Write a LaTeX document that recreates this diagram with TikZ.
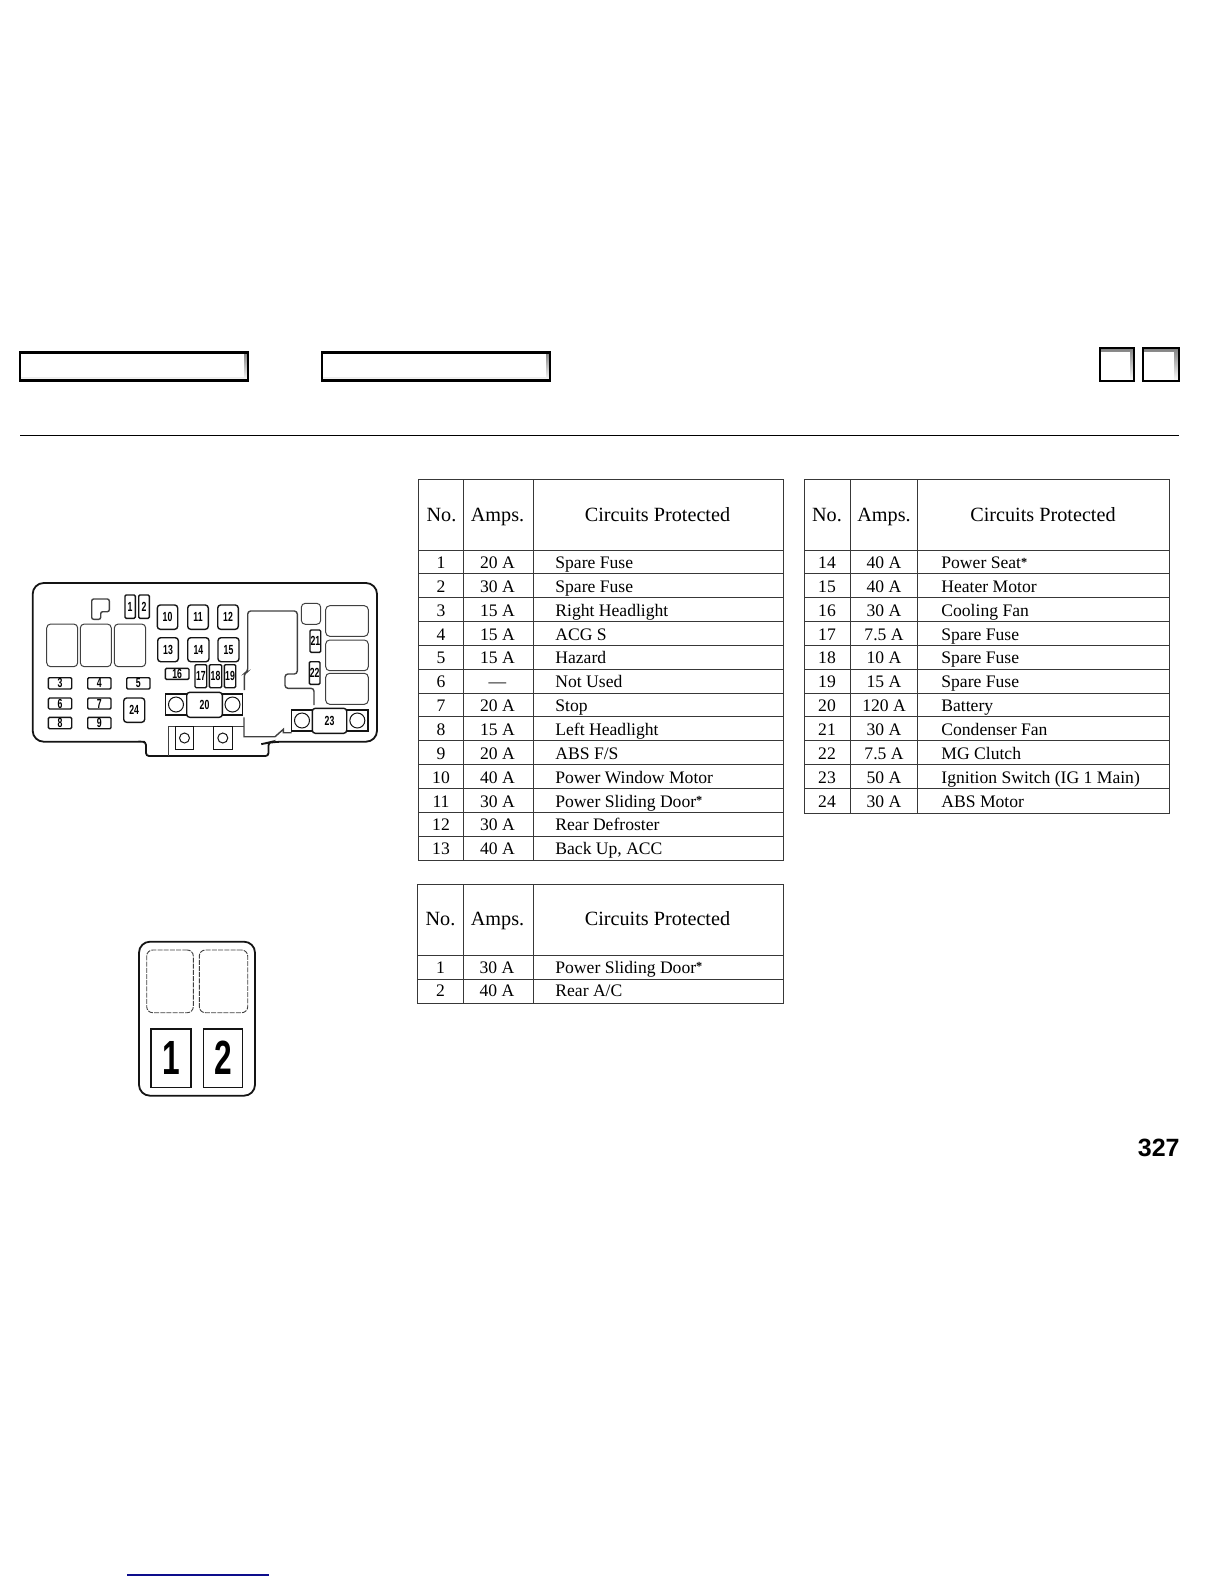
\documentclass[tikz,border=0pt]{standalone}
\usepackage{fontspec}
\setmainfont{Liberation Serif}
\newfontfamily\fuselabel[FakeStretch=0.66]{Liberation Sans Bold}
\newfontfamily\bigfuselabel[FakeStretch=0.66]{Liberation Sans Bold}
\newfontfamily\sansbold{Liberation Sans Bold}
\definecolor{ink}{gray}{0.08}
\definecolor{part}{gray}{0.25}
\definecolor{shade}{gray}{0.75}
\definecolor{linkblue}{rgb}{0.05,0.05,0.55}
\newcommand{\stmark}{\raisebox{0.28ex}{\scalebox{0.7}{\bfseries *}}}
\newcommand{\partbox}[7][fuse]{%
  \pgfmathsetmacro{\pcx}{(#3+#5)/2}\pgfmathsetmacro{\pcy}{(#4+#6)/2}%
  \pgfmathsetmacro{\pwd}{(#5-#3)*0.5}\pgfmathsetmacro{\pht}{(#6-#4)*0.5}%
  \node[#1,minimum width=\pwd bp,minimum height=\pht bp] (#2) at (\pcx,\pcy) {#7};}
\tikzset{
  x=0.5bp,y=-0.5bp,
  fuse/.style={draw=ink,line width=0.7bp,rounded corners=1.5bp,inner sep=0pt,outer sep=0pt,font=\fuselabel\fontsize{6.6bp}{6.6bp}\selectfont},
  slim/.style={fuse,rounded corners=0.6bp},
  sharp/.style={draw=ink,line width=0.65bp,inner sep=0pt,outer sep=0pt},
  relay/.style={draw=part,line width=0.5bp,rounded corners=2bp,inner sep=0pt,outer sep=0pt},
  dashrelay/.style={draw=part,line width=0.45bp,dash pattern=on 2.5bp off 0.6bp,rounded corners=3bp,inner sep=0pt,outer sep=0pt},
  hole/.style={draw=ink,line width=0.5bp,circle,inner sep=0pt,outer sep=0pt},
  shell/.style={draw=ink,line width=0.9bp},
  partline/.style={draw=part,line width=0.55bp},
  rule/.style={draw=ink!85,line width=0.5bp},
  headtext/.style={font=\fontsize{10.1bp}{10bp}\selectfont,anchor=base},
  cell/.style={font=\fontsize{8.8bp}{9bp}\selectfont,anchor=base},
  celltext/.style={font=\fontsize{8.8bp}{9bp}\selectfont,anchor=base west},
  bigdigit/.style={inner sep=0pt,font=\fontsize{24bp}{24bp}\bigfuselabel\selectfont},
  tab/.style={draw=black,line width=1.35bp},
}
\begin{document}
\begin{tikzpicture}
\useasboundingbox (0,0) rectangle (1224,1584);
% top bar
\fill[shade] (20,352) rectangle (248,381);
\fill[white] (21,353) rectangle (243.5,376.5);
\draw[tab] (20,352.5) rectangle (248,380.5);
\fill[shade] (322,352) rectangle (550,381);
\fill[white] (323,353) rectangle (545.5,376.5);
\draw[tab] (322,352.5) rectangle (550,380.5);
\fill[shade] (1100,348) rectangle (1134,381);
\fill[white] (1101,352) rectangle (1129.5,381);
\draw[tab] (1100,348) rectangle (1134,381);
\fill[shade] (1143,348) rectangle (1179,381);
\fill[white] (1144,352) rectangle (1174,381);
\draw[tab] (1143,348) rectangle (1179,381);
\draw[draw=black,line width=0.6bp] (20,435.3) -- (1179,435.3);
% main fuse box shell
\draw[shell,rounded corners=5.5bp] (32.7,620) -- (32.7,583) -- (377,583) -- (377,741.7) -- (272,741.7)
  [rounded corners=1.5bp] -- (268.5,742.5) -- (268.5,756) -- (146,756) -- (146,742) -- (142,741.7)
  [rounded corners=5.5bp] -- (32.7,741.7) -- (32.7,620);
% L-shaped part
\draw[partline,line width=0.7bp,rounded corners=1bp] (91.7,599) -- (109.3,599) -- (109.3,611.7) -- (100.7,611.7) -- (100.7,619.3) -- (91.7,619.3) -- cycle;
% relays left
\partbox[relay]{rA}{46.7}{624}{77.7}{666.7}{}
\partbox[relay]{rB}{80.3}{624}{111.3}{666.7}{}
\partbox[relay]{rC}{114.3}{624}{145.7}{666.7}{}
% relays right
\partbox[relay]{rD}{325.7}{605.7}{368.3}{636.3}{}
\partbox[relay]{rE}{325.7}{640}{368.3}{670.7}{}
\partbox[relay]{rF}{325.7}{673.3}{368.3}{704.3}{}
\partbox[relay]{rG}{301.3}{603.3}{320.7}{624.3}{}
% fuses
\partbox[slim]{f1}{125}{595}{135.3}{618.3}{1}
\partbox[slim]{f2}{138.7}{595}{149.3}{618.3}{2}
\partbox[slim]{f3}{48.3}{677.7}{71.7}{689}{3}
\partbox[slim]{f4}{87.7}{677.7}{111}{689}{4}
\partbox[slim]{f5}{126.7}{677.7}{150}{689}{5}
\partbox[slim]{f6}{48.3}{698}{71.7}{709}{6}
\partbox[slim]{f7}{87.7}{698}{111}{709}{7}
\partbox[slim]{f8}{48.3}{717.3}{71.7}{728.7}{8}
\partbox[slim]{f9}{87.7}{717.3}{111}{728.7}{9}
\partbox{f10}{157.3}{605}{177.7}{629.3}{10}
\partbox{f11}{187.7}{605}{208.3}{629.3}{11}
\partbox{f12}{217.7}{605}{238.3}{629.3}{12}
\partbox{f13}{157.7}{637.7}{178.3}{661.7}{13}
\partbox{f14}{187.7}{637.7}{209}{661.7}{14}
\partbox{f15}{218}{637.7}{239}{661.7}{15}
\partbox[slim]{f16}{165.3}{668.3}{189}{679.3}{16}
\partbox[slim]{f17}{195}{664.7}{206.7}{687.7}{17}
\partbox[slim]{f18}{209.3}{664.7}{221.7}{687.7}{18}
\partbox[slim]{f19}{224.3}{664.7}{235.7}{687.7}{19}
\partbox[slim]{f21}{310}{630}{320.7}{652.3}{21}
\partbox[slim]{f22}{309.3}{661.7}{320}{684.3}{22}
\partbox{f24}{123.7}{698}{144.7}{722.3}{24}
% fuse 20 group
\partbox[sharp]{s20a}{165.3}{694}{186.7}{715}{}
\partbox[sharp]{s20b}{222.3}{694}{242.7}{715}{}
\partbox{f20}{186.7}{692.3}{222.3}{717.3}{20}
\node[hole,minimum size=7.5bp] (h20a) at (s20a) {};
\node[hole,minimum size=7.5bp] (h20b) at (s20b) {};
% fuse 23 group
\partbox[sharp]{s23a}{291.7}{710}{312.3}{731}{}
\partbox[sharp]{s23b}{346.7}{710}{368}{731}{}
\partbox{f23}{312.3}{708.3}{346.7}{733.3}{23}
\node[hole,minimum size=7.5bp] (h23a) at (s23a) {};
\node[hole,minimum size=7.5bp] (h23b) at (s23b) {};
% bottom section
\draw[partline] (168.3,756) -- (168.3,726.7) -- (243.5,726.7);
\partbox[sharp,line width=0.5bp]{sBa}{175.7}{726.7}{193.3}{749.3}{}
\partbox[sharp,line width=0.5bp]{sBb}{213.3}{726.7}{232.3}{749.3}{}
\node[hole,minimum size=5bp] (hBa) at (sBa) {};
\node[hole,minimum size=5bp] (hBb) at (sBb) {};
% free-form outline
\draw[partline,line width=0.7bp] (244,717.3) -- (244,736.7) -- (275,736.7) -- (283.3,729.3) -- (283.3,732.7) -- (291.7,732.7);
\draw[partline,line width=0.7bp,rounded corners=1.5bp] (244.3,690) -- (244.3,673.3) -- (247.7,671.7) -- (247.7,611) -- (297.3,611) -- (297.3,674) -- (285,674) -- (285,688.3) -- (314,688.3) -- (314,705);
% second fuse box
\draw[shell,rounded corners=5.5bp] (139,941.7) rectangle (255,1095.7);
\partbox[dashrelay]{rH}{146.7}{950}{193.3}{1012.7}{}
\partbox[dashrelay]{rI}{199.3}{950}{247.7}{1012.7}{}
\partbox[sharp,bigdigit]{g1}{151}{1029}{191}{1087.3}{1}
\partbox[sharp,bigdigit]{g2}{203.3}{1029}{242.7}{1087.3}{2}
% table 1
\draw[rule] (418,479) rectangle (783,860);
\foreach \yy in {550,573.85,597.7,621.55,645.4,669.25,693.1,716.95,740.8,764.65,788.5,812.35,836.2} \draw[rule] (418,\yy) -- (783,\yy);
\draw[rule] (463,479) -- (463,860);
\draw[rule] (533,479) -- (533,860);
\node[headtext] (t1no) at (441.5,521) {No.};
\node[headtext] (t1amp) at (497.5,521) {Amps.};
\node[headtext] (t1cp) at (657.5,521) {Circuits Protected};
\foreach \no/\amp/\what [count=\i from 0] in {1/20 A/Spare Fuse,2/30 A/Spare Fuse,3/15 A/Right Headlight,4/15 A/ACG S,5/15 A/Hazard,6/---/Not Used,7/20 A/Stop,8/15 A/Left Headlight,9/20 A/{ABS F/S},10/40 A/Power Window Motor,11/30 A/{Power Sliding Door\stmark},12/30 A/Rear Defroster,13/40 A/{Back Up, ACC}}{
  \pgfmathsetmacro{\by}{568.5+\i*23.85}
  \node[cell] (t1n\i) at (441,\by) {\no};
  \node[cell] (t1a\i) at (497.5,\by) {\amp};
  \node[celltext,inner sep=0pt] (t1c\i) at (555,\by) {\what};
}
% table 2
\draw[rule] (804,479) rectangle (1169,813);
\foreach \yy in {550,573.85,597.7,621.55,645.4,669.25,693.1,716.95,740.8,764.65,788.5} \draw[rule] (804,\yy) -- (1169,\yy);
\draw[rule] (850,479) -- (850,813);
\draw[rule] (917,479) -- (917,813);
\node[headtext] (t2no) at (827,521) {No.};
\node[headtext] (t2amp) at (884,521) {Amps.};
\node[headtext] (t2cp) at (1043,521) {Circuits Protected};
\foreach \no/\amp/\what [count=\i from 0] in {14/40 A/{Power Seat\stmark},15/40 A/Heater Motor,16/30 A/Cooling Fan,17/7.5 A/Spare Fuse,18/10 A/Spare Fuse,19/15 A/Spare Fuse,20/120 A/Battery,21/30 A/Condenser Fan,22/7.5 A/MG Clutch,23/50 A/Ignition Switch (IG 1 Main),24/30 A/ABS Motor}{
  \pgfmathsetmacro{\by}{568.5+\i*23.85}
  \node[cell] (t2n\i) at (827,\by) {\no};
  \node[cell] (t2a\i) at (884,\by) {\amp};
  \node[celltext,inner sep=0pt] (t2c\i) at (941,\by) {\what};
}
% table 3
\draw[rule] (417,884) rectangle (783,1003);
\draw[rule] (417,955) -- (783,955);
\draw[rule] (417,979) -- (783,979);
\draw[rule] (463,884) -- (463,1003);
\draw[rule] (533,884) -- (533,1003);
\node[headtext] (t3no) at (440.5,925.5) {No.};
\node[headtext] (t3amp) at (497.5,925.5) {Amps.};
\node[headtext] (t3cp) at (657.5,925.5) {Circuits Protected};
\foreach \no/\amp/\what [count=\i from 0] in {1/30 A/{Power Sliding Door\stmark},2/40 A/{Rear A/C}}{
  \pgfmathsetmacro{\by}{973+\i*23.85}
  \node[cell] (t3n\i) at (440.5,\by) {\no};
  \node[cell] (t3a\i) at (497,\by) {\amp};
  \node[celltext,inner sep=0pt] (t3c\i) at (555,\by) {\what};
}
% page number and link rule
\node[anchor=base east,inner sep=0pt,font=\sansbold\fontsize{12.5bp}{12.5bp}\selectfont] (pageno) at (1180,1156) {327};
\draw[linkblue,line width=0.6bp] (127,1575) -- (269,1575);
\end{tikzpicture}
\end{document}
